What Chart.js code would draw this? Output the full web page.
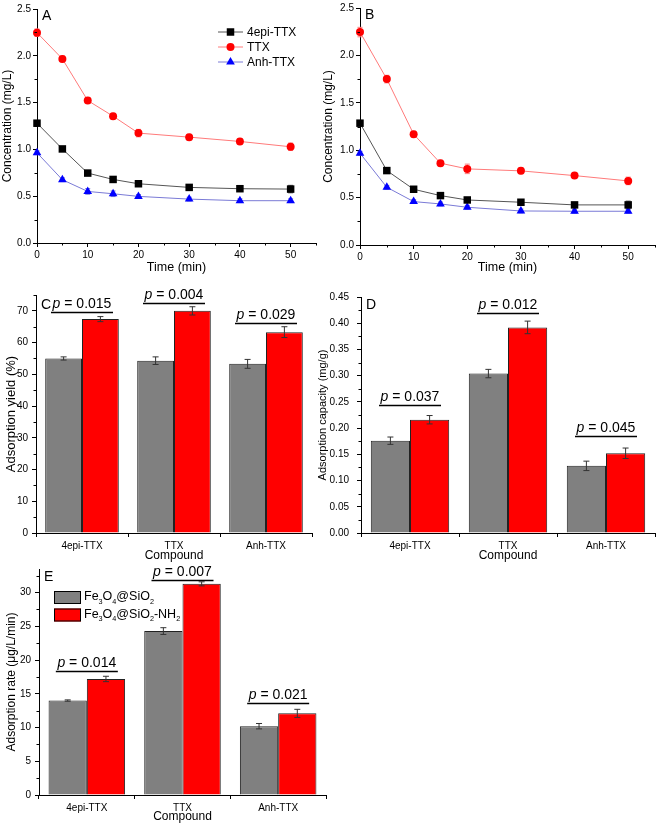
<!DOCTYPE html>
<html>
<head>
<meta charset="utf-8">
<script src="https://cdn.jsdelivr.net/npm/chart.js@4.4.1/dist/chart.umd.min.js"></script>
<style>
body { margin: 0; background: #fff; width: 661px; height: 826px; position: relative; overflow: hidden; }
canvas { position: absolute; }
</style>
</head>
<body>
<canvas id="cA" width="330" height="280" style="left:0;top:0"></canvas>
<canvas id="cB" width="343" height="280" style="left:318px;top:0"></canvas>
<canvas id="cC" width="330" height="290" style="left:0;top:280px"></canvas>
<canvas id="cD" width="346" height="290" style="left:315px;top:280px"></canvas>
<canvas id="cE" width="330" height="271" style="left:0;top:555px"></canvas>
<script>
// ---- data ----
var times = [0, 5, 10, 15, 20, 30, 40, 50];
var lineNames = ['4epi-TTX', 'TTX', 'Anh-TTX'];

// panel A: Fe3O4@SiO2
var aEpi = [1.28, 1.005, 0.747, 0.679, 0.633, 0.594, 0.58, 0.576];
var aTtx = [2.247, 1.967, 1.522, 1.355, 1.174, 1.131, 1.085, 1.028];
var aAnh = [0.964, 0.676, 0.551, 0.526, 0.498, 0.469, 0.452, 0.452];
var aEpiErr = [0.02, 0.02, 0.02, 0.03, 0.02, 0.02, 0.02, 0.04];
var aTtxErr = [0.04, 0.03, 0.03, 0.03, 0.04, 0.03, 0.03, 0.04];
var aAnhErr = [0.02, 0.02, 0.03, 0.03, 0.02, 0.02, 0.02, 0.02];

// panel B: Fe3O4@SiO2-NH2
var bEpi = [1.285, 0.785, 0.588, 0.521, 0.475, 0.451, 0.423, 0.423];
var bTtx = [2.246, 1.75, 1.169, 0.863, 0.803, 0.782, 0.732, 0.676];
var bAnh = [0.968, 0.609, 0.458, 0.433, 0.398, 0.359, 0.356, 0.356];
var bEpiErr = [0.02, 0.03, 0.02, 0.02, 0.02, 0.02, 0.02, 0.04];
var bTtxErr = [0.05, 0.04, 0.03, 0.03, 0.05, 0.03, 0.03, 0.04];
var bAnhErr = [0.02, 0.02, 0.02, 0.02, 0.02, 0.02, 0.02, 0.02];

var compounds = ['4epi-TTX', 'TTX', 'Anh-TTX'];
var materials = ['Fe3O4@SiO2', 'Fe3O4@SiO2-NH2'];

// panel C: adsorption yield (%)
var yieldSi = [55.0, 54.3, 53.3];
var yieldNh = [67.4, 70.0, 63.3];
var yieldSiErr = [0.5, 1.2, 1.4];
var yieldNhErr = [0.8, 1.3, 1.7];
var yieldP = ['0.015', '0.004', '0.029'];
var yieldPLevel = [69.7, 72.5, 66.2];

// panel D: adsorption capacity (mg/g)
var capSi = [0.176, 0.304, 0.128];
var capNh = [0.216, 0.392, 0.152];
var capSiErr = [0.007, 0.008, 0.009];
var capNhErr = [0.008, 0.012, 0.010];
var capP = ['0.037', '0.012', '0.045'];
var capPLevel = [0.244, 0.42, 0.185];

// panel E: adsorption rate (ug/L/min)
var rateSi = [14.0, 24.3, 10.2];
var rateNh = [17.2, 31.3, 12.1];
var rateSiErr = [0.1, 0.5, 0.4];
var rateNhErr = [0.4, 0.3, 0.6];
var rateP = ['0.014', '0.007', '0.021'];
var ratePLevel = [18.4, 31.9, 13.7];

var FONT = '"Liberation Sans", Arial, sans-serif';
Chart.defaults.font.family = FONT;
Chart.defaults.color = '#000';

// ---- helpers / plugins ----
function drawMarker(ctx, style, x, y, r, color) {
  ctx.fillStyle = color;
  ctx.beginPath();
  if (style === 'rect') {
    var s = r * Math.SQRT1_2;
    ctx.rect(x - s, y - s, 2 * s, 2 * s);
  } else if (style === 'triangle') {
    ctx.moveTo(x, y - r);
    ctx.lineTo(x + r * 0.866, y + r * 0.5);
    ctx.lineTo(x - r * 0.866, y + r * 0.5);
    ctx.closePath();
  } else {
    ctx.arc(x, y, r, 0, Math.PI * 2);
  }
  ctx.fill();
}

// text with digits as subscripts, e.g. Fe3O4@SiO2
function drawChem(ctx, txt, x, y, size) {
  var parts = txt.match(/\d+|\D+/g);
  parts.forEach(function(p) {
    var sub = /^\d+$/.test(p);
    ctx.font = (sub ? size * 0.58 : size) + 'px ' + FONT;
    ctx.fillText(p, x, sub ? y + size * 0.38 : y);
    x += ctx.measureText(p).width;
  });
}

var errorBars = {
  id: 'errorBars',
  draw: function(chart) {
    var ctx = chart.ctx, ys = chart.scales.y;
    chart.data.datasets.forEach(function(ds, i) {
      if (!ds.err) return;
      var meta = chart.getDatasetMeta(i);
      ctx.save();
      ctx.strokeStyle = ds.errColor || '#333';
      ctx.lineWidth = 1;
      meta.data.forEach(function(el, j) {
        var v = ds.data[j];
        if (typeof v === 'object') v = v.y;
        var t = ys.getPixelForValue(v + ds.err[j]);
        var b = ys.getPixelForValue(v - ds.err[j]);
        var w = ds.capWidth || 3;
        ctx.beginPath();
        ctx.moveTo(el.x, t); ctx.lineTo(el.x, b);
        ctx.moveTo(el.x - w, t); ctx.lineTo(el.x + w, t);
        ctx.moveTo(el.x - w, b); ctx.lineTo(el.x + w, b);
        ctx.stroke();
      });
      ctx.restore();
    });
  },
  beforeDatasetsDraw: function(chart, args, opts) { if (opts.under) this.draw(chart); },
  afterDatasetsDraw: function(chart, args, opts) { if (!opts.under) this.draw(chart); }
};

var minorTicks = {
  id: 'minorTicks',
  afterDraw: function(chart) {
    var ctx = chart.ctx;
    ctx.save();
    ctx.strokeStyle = '#000';
    ctx.lineWidth = 1;
    Object.keys(chart.scales).forEach(function(k) {
      var s = chart.scales[k];
      if (s.type !== 'linear') return;
      var t = s.ticks;
      for (var i = 0; i < t.length; i++) {
        var mid = i < t.length - 1 ? (t[i].value + t[i + 1].value) / 2
                                   : t[i].value + (t[i].value - t[i - 1].value) / 2;
        if (mid > s.max) continue;
        var p = Math.round(s.getPixelForValue(mid)) + 0.5;
        ctx.beginPath();
        if (s.isHorizontal()) { ctx.moveTo(p, s.top); ctx.lineTo(p, s.top + 2.5); }
        else { ctx.moveTo(s.right, p); ctx.lineTo(s.right - 2.5, p); }
        ctx.stroke();
      }
    });
    ctx.restore();
  }
};

var pMarks = {
  id: 'pMarks',
  afterDraw: function(chart, args, opts) {
    if (!opts.values) return;
    var ctx = chart.ctx, xs = chart.scales.x, ys = chart.scales.y;
    ctx.save();
    opts.values.forEach(function(p, i) {
      var cx = xs.getPixelForValue(i);
      var py = Math.round(ys.getPixelForValue(opts.levels[i])) + 0.5;
      ctx.strokeStyle = '#000';
      ctx.lineWidth = 1.5;
      ctx.beginPath();
      ctx.moveTo(cx - 31, py); ctx.lineTo(cx + 31, py);
      ctx.stroke();
      ctx.fillStyle = '#000';
      ctx.textBaseline = 'alphabetic';
      ctx.font = 'italic 14px ' + FONT;
      var w1 = ctx.measureText('p').width;
      ctx.font = '14px ' + FONT;
      var rest = ' = ' + p;
      var w2 = ctx.measureText(rest).width;
      var sx = cx - (w1 + w2) / 2;
      ctx.font = 'italic 14px ' + FONT;
      ctx.fillText('p', sx, py - 5);
      ctx.font = '14px ' + FONT;
      ctx.fillText(rest, sx + w1, py - 5);
    });
    ctx.restore();
  }
};

var deco = {
  id: 'deco',
  afterDraw: function(chart, args, opts) {
    var ctx = chart.ctx, ca = chart.chartArea;
    ctx.save();
    ctx.fillStyle = '#000';
    ctx.font = '14px ' + FONT;
    ctx.textBaseline = 'middle';
    ctx.fillText(opts.letter, ca.left + 5, ca.top + opts.letterDy);
    if (opts.lineLegend) {
      chart.data.datasets.forEach(function(ds, i) {
        var y = ca.top + 23 + i * 15, x0 = ca.left + 181;
        ctx.strokeStyle = ds.borderColor;
        ctx.lineWidth = 1;
        ctx.beginPath(); ctx.moveTo(x0, y); ctx.lineTo(x0 + 25, y); ctx.stroke();
        drawMarker(ctx, ds.pointStyle, x0 + 12.5, y, ds.pointRadius, ds.pointBackgroundColor);
        ctx.fillStyle = '#000';
        ctx.font = '12px ' + FONT;
        ctx.fillText(ds.label, x0 + 29, y + 1);
      });
    }
    if (opts.barLegend) {
      chart.data.datasets.forEach(function(ds, i) {
        var y = ca.top + 22 + i * 17.5, x0 = ca.left + 15;
        ctx.fillStyle = ds.backgroundColor;
        ctx.fillRect(x0, y, 27, 13);
        ctx.strokeStyle = '#000';
        ctx.lineWidth = 1;
        ctx.strokeRect(x0 + 0.5, y + 0.5, 26, 12);
        ctx.fillStyle = '#000';
        drawChem(ctx, ds.label, x0 + 30, y + 6, 12.5);
      });
    }
    ctx.restore();
  }
};

function lineDs(label, vals, err, style, r, lineCol, markCol) {
  return {
    label: label,
    data: times.map(function(t, i) { return { x: t, y: vals[i] }; }),
    err: err, errColor: lineCol, capWidth: 2.5,
    borderColor: lineCol, borderWidth: 1,
    pointStyle: style, pointRadius: r, pointHoverRadius: r,
    pointBackgroundColor: markCol, pointBorderColor: markCol, pointBorderWidth: 0,
    clip: false
  };
}

function axisCommon(fit) {
  return {
    border: { display: true, color: '#000', width: 1 },
    grid: { drawOnChartArea: false, drawTicks: true, tickLength: 4, color: '#000' },
    afterFit: fit
  };
}

function lineChart(id, sets, o) {
  var x = axisCommon(function(s) { s.height = o.xh; });
  x.type = 'linear'; x.min = 0; x.max = 55;
  x.ticks = { stepSize: 10, includeBounds: false, font: { size: 10 }, padding: 2, maxRotation: 0 };
  x.title = { display: true, text: 'Time (min)', font: { size: 12.5 }, padding: { top: 0, bottom: 5 } };
  var y = axisCommon(function(s) { s.width = o.yw; });
  y.min = 0; y.max = 2.5;
  y.ticks = { stepSize: 0.5, includeBounds: false, font: { size: 10 }, padding: 2,
              callback: function(v) { return v.toFixed(1); } };
  y.title = { display: true, text: 'Concentration (mg/L)', font: { size: 12 }, padding: { top: o.ytp, bottom: 0 } };
  return new Chart(document.getElementById(id), {
    type: 'line',
    data: { datasets: sets },
    options: {
      responsive: false, animation: false, events: [],
      layout: { padding: o.pad },
      scales: { x: x, y: y },
      plugins: {
        legend: { display: false }, tooltip: { enabled: false },
        errorBars: { under: true },
        deco: { letter: o.letter, letterDy: 7, lineLegend: o.legend }
      }
    },
    plugins: [errorBars, minorTicks, deco]
  });
}

function barChart(id, si, nh, siErr, nhErr, o) {
  var x = axisCommon(function(s) { s.height = o.xh; });
  x.grid.offset = true;
  x.ticks = { font: { size: 10 }, padding: 3, maxRotation: 0 };
  x.title = { display: true, text: 'Compound', font: { size: 12 }, padding: { top: 0, bottom: o.xtp } };
  var y = axisCommon(function(s) { s.width = o.yw; });
  y.min = 0; y.max = o.ymax;
  y.ticks = { stepSize: o.step, includeBounds: false, font: { size: 10 }, padding: o.ypad,
              callback: function(v) { return o.dec ? v.toFixed(o.dec) : v; } };
  y.title = { display: true, text: o.ytitle, font: { size: o.ytsize }, padding: { top: o.ytp, bottom: 0 } };
  return new Chart(document.getElementById(id), {
    type: 'bar',
    data: {
      labels: compounds,
      datasets: [
        { label: materials[0], data: si, err: siErr, errColor: '#333', capWidth: 3,
          backgroundColor: '#808080', borderColor: '#222', borderWidth: 1 },
        { label: materials[1], data: nh, err: nhErr, errColor: '#333', capWidth: 3,
          backgroundColor: '#ff0000', borderColor: '#222', borderWidth: 1 }
      ]
    },
    options: {
      responsive: false, animation: false, events: [],
      layout: { padding: o.pad },
      datasets: { bar: { categoryPercentage: 0.8, barPercentage: 1.0 } },
      scales: { x: x, y: y },
      plugins: {
        legend: { display: false }, tooltip: { enabled: false },
        errorBars: { under: false },
        pMarks: { values: o.p, levels: o.pl },
        deco: { letter: o.letter, letterDy: o.letterDy, barLegend: o.legend }
      }
    },
    plugins: [errorBars, minorTicks, pMarks, deco]
  });
}

// ---- panels ----
lineChart('cA', [
  lineDs(lineNames[0], aEpi, aEpiErr, 'rect', 5.3, '#555555', '#000000'),
  lineDs(lineNames[1], aTtx, aTtxErr, 'circle', 4, '#ff7a7a', '#ff0000'),
  lineDs(lineNames[2], aAnh, aAnhErr, 'triangle', 5, '#7a7ad6', '#0000ff')
], { pad: { top: 9, right: 14, left: 0, bottom: 0 }, xh: 37, yw: 37, ytp: 0, letter: 'A', legend: true });

lineChart('cB', [
  lineDs(lineNames[0], bEpi, bEpiErr, 'rect', 5.3, '#555555', '#000000'),
  lineDs(lineNames[1], bTtx, bTtxErr, 'circle', 4, '#ff7a7a', '#ff0000'),
  lineDs(lineNames[2], bAnh, bAnhErr, 'triangle', 5, '#7a7ad6', '#0000ff')
], { pad: { top: 8, right: 6, left: 0, bottom: 0 }, xh: 35, yw: 42, ytp: 3.8, letter: 'B', legend: false });

barChart('cC', yieldSi, yieldNh, yieldSiErr, yieldNhErr, {
  pad: { top: 15, right: 18, left: 0, bottom: 0 }, xh: 37, yw: 36, xtp: 6.8,
  ymax: 75, step: 10, dec: 0, ypad: 4, ytitle: 'Adsorption yield (%)', ytsize: 13, ytp: 3.2,
  p: yieldP, pl: yieldPLevel, letter: 'C', letterDy: 10, legend: false
});

barChart('cD', capSi, capNh, capSiErr, capNhErr, {
  pad: { top: 17, right: 6, left: 0, bottom: 0 }, xh: 37, yw: 46, xtp: 6.8,
  ymax: 0.45, step: 0.05, dec: 2, ypad: 8, ytitle: 'Adsorption capacity (mg/g)', ytsize: 11, ytp: 1.5,
  p: capP, pl: capPLevel, letter: 'D', letterDy: 8, legend: false
});

barChart('cE', rateSi, rateNh, rateSiErr, rateNhErr, {
  pad: { top: 14, right: 4, left: 0, bottom: 0 }, xh: 31, yw: 39, xtp: 1.8,
  ymax: 33.5, step: 5, dec: 0, ypad: 4, ytitle: 'Adsorption rate (\u03bcg/L/min)', ytsize: 12, ytp: 4.8,
  p: rateP, pl: ratePLevel, letter: 'E', letterDy: 8, legend: true
});
</script>
</body>
</html>
